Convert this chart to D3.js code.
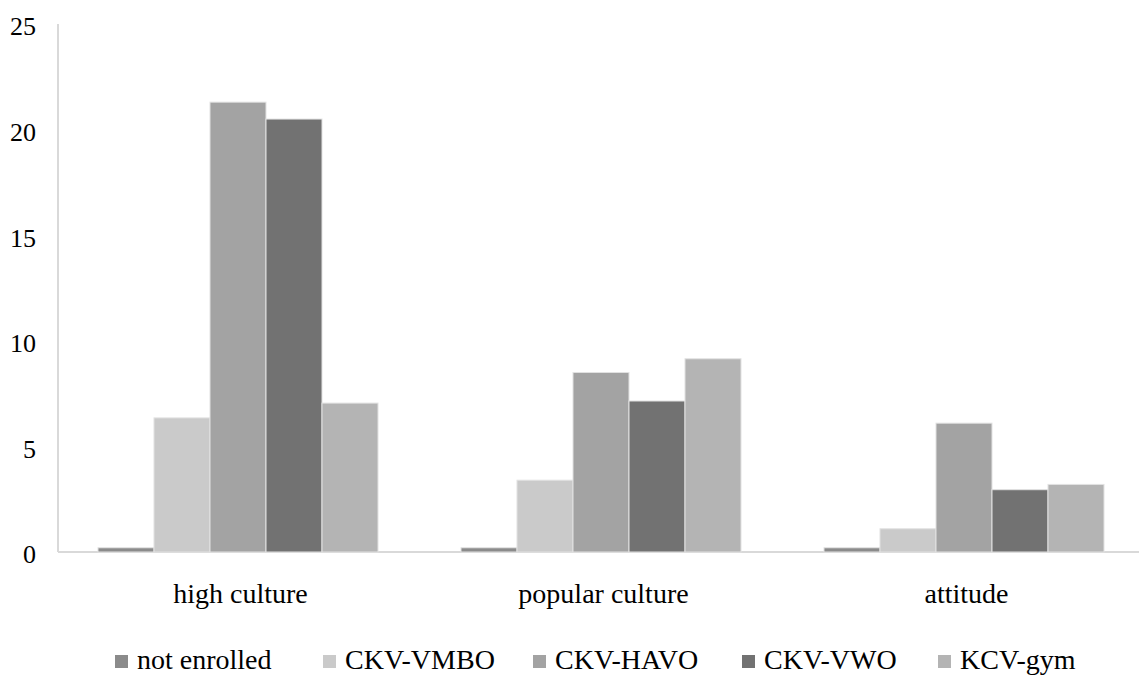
<!DOCTYPE html>
<html><head><meta charset="utf-8">
<script src="https://cdn.jsdelivr.net/npm/d3@7"></script>
<style>body{margin:0;background:#fff}svg{display:block}
text{font-family:"Liberation Serif","Times New Roman",Tinos,"DejaVu Serif",serif;}</style>
</head><body>
<svg id="chart" width="1139" height="677"></svg>
<script>
const categories = ["high culture", "popular culture", "attitude"];
const seriesNames = ["not enrolled", "CKV-VMBO", "CKV-HAVO", "CKV-VWO", "KCV-gym"];
const notEnrolled = [0.2, 0.2, 0.2];
const ckvVmbo = [6.35, 3.4, 1.1];
const ckvHavo = [21.3, 8.5, 6.1];
const ckvVwo = [20.5, 7.15, 2.95];
const kcvGym = [7.05, 9.15, 3.2];
const seriesColors = ["#8b8b8b", "#cacaca", "#a3a3a3", "#727272", "#b4b4b4"];
const yTicks = [0, 5, 10, 15, 20, 25];

const seriesValues = [notEnrolled, ckvVmbo, ckvHavo, ckvVwo, kcvGym];
const svg = d3.select("#chart");

const y = d3.scaleLinear().domain([0, 25]).range([552, 24]);
const x0 = d3.scaleBand().domain(categories).range([60, 60 + 3 * 363]).padding(0);
const x1 = d3.scaleBand().domain(seriesNames).range([38, 318]).padding(0);
const color = d3.scaleOrdinal().domain(seriesNames).range(seriesColors);

svg.append("line").attr("x1", 58).attr("x2", 58).attr("y1", y(25)).attr("y2", y(0))
  .attr("stroke", "#d9d9d9").attr("stroke-width", 2);
svg.append("line").attr("x1", 58).attr("x2", 1139).attr("y1", y(0)).attr("y2", y(0))
  .attr("stroke", "#d9d9d9").attr("stroke-width", 2);

const yAxis = d3.axisLeft(y).tickValues(yTicks).tickSize(0).tickPadding(0);
const yg = svg.append("g").attr("transform", "translate(36,0)").call(yAxis);
yg.select(".domain").remove();
yg.selectAll("text").attr("font-family", null).attr("font-size", 26).attr("fill", "#000")
  .attr("dy", "0.42em");

const groups = svg.append("g").selectAll("g").data(categories).join("g")
  .attr("transform", d => `translate(${x0(d)},0)`);
groups.selectAll("rect")
  .data((c, ci) => seriesNames.map((s, si) => ({ s, v: seriesValues[si][ci] })))
  .join("rect")
  .attr("x", d => x1(d.s))
  .attr("width", x1.bandwidth())
  .attr("y", d => y(d.v))
  .attr("height", d => y(0) - y(d.v))
  .attr("fill", d => color(d.s))
  .attr("stroke", "#e2e2e2").attr("stroke-width", 1);

const xAxis = d3.axisBottom(x0).tickSize(0).tickPadding(0);
const xg = svg.append("g").attr("transform", "translate(-1,582)").call(xAxis);
xg.select(".domain").remove();
xg.attr("font-family", null);
xg.selectAll("text").attr("font-size", 28).attr("fill", "#000").attr("dy", "0.75em");
yg.attr("font-family", null);

const legendX = [115, 323, 533, 742, 938];
const lg = svg.append("g").selectAll("g").data(seriesNames).join("g")
  .attr("transform", (d, i) => `translate(${legendX[i]},0)`);
lg.append("rect").attr("x", 0).attr("y", 655).attr("width", 13).attr("height", 13)
  .attr("fill", d => color(d));
lg.append("text").attr("x", 22).attr("y", 669).text(d => d)
  .attr("font-size", 28).attr("fill", "#000");
</script>
</body></html>
